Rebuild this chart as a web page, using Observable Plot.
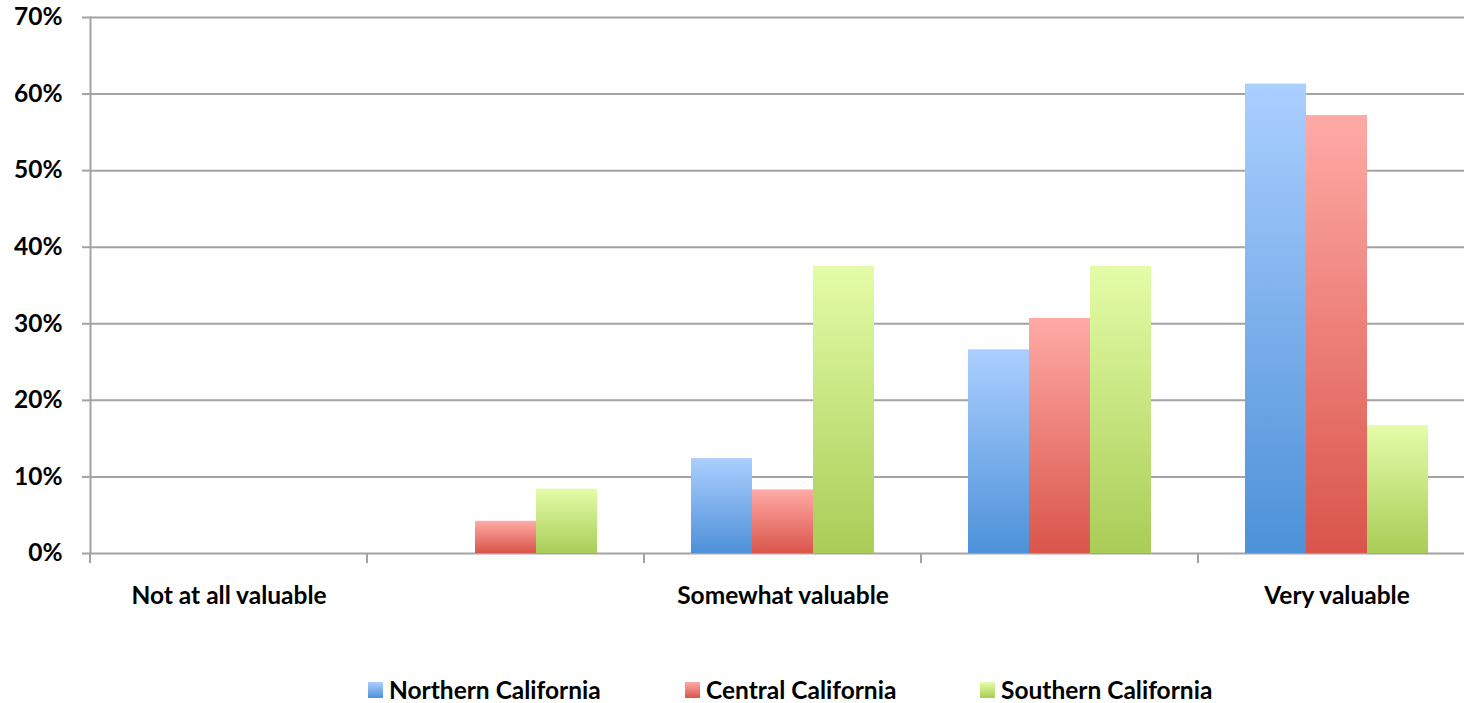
<!DOCTYPE html>
<html>
<head>
<meta charset="utf-8">
<script src="https://cdn.jsdelivr.net/npm/d3@7"></script>
<script src="https://cdn.jsdelivr.net/npm/@observablehq/plot@0.6"></script>
<style>
  html { overflow: hidden; }
  body { margin: 0; padding: 0; background: #fff; }
  #chart { position: relative; width: 1480px; height: 703px; }
  #legend { position: absolute; left: 0; top: 675px; width: 1464px; height: 30px; font-family: Lato, "Open Sans", sans-serif; font-weight: bold; font-size: 24.5px; color: #000; }
  .item { position: absolute; top: 0; display: flex; align-items: center; line-height: 30px; }
  .sw { width: 15px; height: 16px; margin-right: 6px; }
</style>
</head>
<body>
<div id="chart"></div>
<script>
const categories = ["c1", "c2", "c3", "c4", "c5"];
const categoryLabels = ["Not at all valuable", "", "Somewhat valuable", "", "Very valuable"];
const series = ["Northern California", "Central California", "Southern California"];
const northern = [0, 0, 12.4, 26.6, 61.3];
const central = [0, 4.2, 8.3, 30.7, 57.2];
const southern = [0, 8.4, 37.5, 37.5, 16.7];
const yTicks = [0, 10, 20, 30, 40, 50, 60, 70];
const gradients = [
  {id: "gN", top: "#abcfff", bottom: "#4d91d8"},
  {id: "gC", top: "#ffaaa6", bottom: "#d9554a"},
  {id: "gS", top: "#e4fca8", bottom: "#a9cd57"}
];

const values = [northern, central, southern];
const data = [];
categories.forEach((c, i) => series.forEach((s, j) => data.push({category: c, series: s, value: values[j][i] / 100, grad: j})));

const axisColor = "#a3a3a3";
const font = "Lato, 'Open Sans', sans-serif";

// small boundary tick at the left edge of each category facet
function boundaryTick(index, scales, values, dims) {
  const x = dims.marginLeft;
  const y = dims.height - dims.marginBottom;
  const g = d3.create("svg:g");
  g.append("line").attr("x1", x).attr("x2", x).attr("y1", y).attr("y2", y + 10)
    .attr("stroke", axisColor).attr("stroke-width", 2);
  return g.node();
}

const plot = Plot.plot({
  width: 1480,
  height: 640,
  marginLeft: 88,
  marginRight: 4,
  marginTop: 17,
  marginBottom: 87,
  style: {fontFamily: font, fontWeight: "bold", fontSize: "24.5px", color: "#000", background: "#fff"},
  fx: {domain: categories, padding: 0, label: null},
  x: {domain: series, paddingInner: 0, paddingOuter: 0.738, axis: null},
  y: {domain: [0, 0.7], label: null},
  marks: [
    Plot.gridY(yTicks.map(d => d / 100), {stroke: axisColor, strokeOpacity: 1, strokeWidth: 2}),
    Plot.axisY(yTicks.map(d => d / 100), {tickFormat: d => Math.round(d * 100) + "%", tickSize: 8, tickPadding: 20, stroke: axisColor, strokeWidth: 2, strokeOpacity: 1, fontSize: 24.5, label: null}),
    Plot.frame({anchor: "left", facet: "super", stroke: axisColor, strokeWidth: 2}),
    boundaryTick,
    ...gradients.map((g, j) =>
      Plot.barY(data.filter(d => d.grad === j), {fx: "category", x: "series", y: "value", fill: `url(#${g.id})`, filter: d => d.value > 0, style: "filter:url(#shadow)"})
    ),
    Plot.axisFx({anchor: "bottom", tickSize: 0, tickPadding: 33, tickFormat: d => categoryLabels[categories.indexOf(d)], fontSize: 24.5, label: null})
  ]
});

// gradient definitions & shadow
const defs = d3.create("svg:defs");
gradients.forEach(g => {
  const lg = defs.append("linearGradient").attr("id", g.id).attr("x1", 0).attr("y1", 0).attr("x2", 0).attr("y2", 1);
  lg.append("stop").attr("offset", "0%").attr("stop-color", g.top);
  lg.append("stop").attr("offset", "100%").attr("stop-color", g.bottom);
});
const f = defs.append("filter").attr("id", "shadow").attr("x", "-20%").attr("y", "-10%").attr("width", "140%").attr("height", "120%");
f.append("feDropShadow").attr("dx", 1).attr("dy", 0).attr("stdDeviation", 2).attr("flood-color", "#000").attr("flood-opacity", 0.18);
plot.insertBefore(defs.node(), plot.firstChild);

document.getElementById("chart").appendChild(plot);

// legend
const legend = document.createElement("div");
legend.id = "legend";
const legendX = [368, 685, 980];
series.forEach((s, j) => {
  const item = document.createElement("div");
  item.className = "item";
  item.style.left = legendX[j] + "px";
  const sw = document.createElement("div");
  sw.className = "sw";
  sw.style.background = `linear-gradient(${gradients[j].top}, ${gradients[j].bottom})`;
  const t = document.createElement("span");
  t.textContent = s;
  item.appendChild(sw); item.appendChild(t);
  legend.appendChild(item);
});
document.getElementById("chart").appendChild(legend);
</script>
</body>
</html>
